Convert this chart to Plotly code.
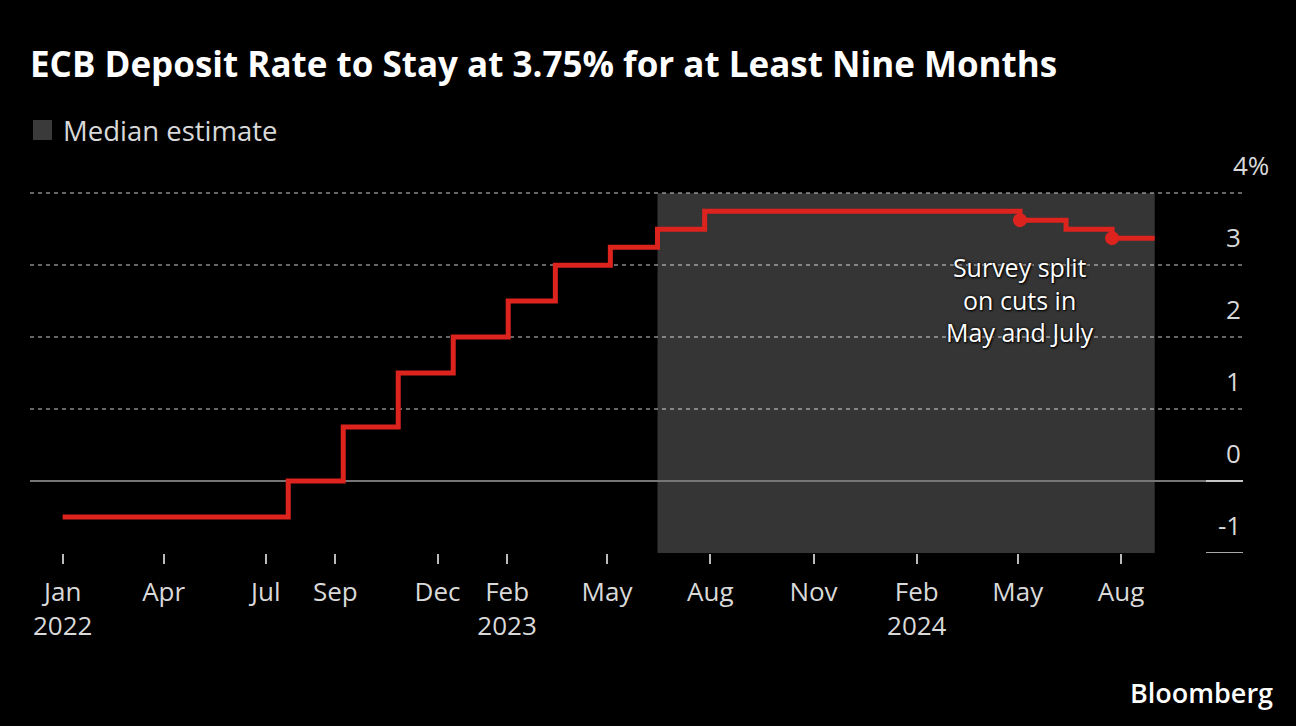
import plotly.graph_objects as go

# ---- data ----
dates = ["2022-01-01", "2022-07-21", "2022-09-08", "2022-10-27", "2022-12-15",
         "2023-02-02", "2023-03-16", "2023-05-04", "2023-06-15", "2023-07-27",
         "2024-05-03", "2024-06-13", "2024-07-24", "2024-08-31"]
rates = [-0.5, 0.0, 0.75, 1.5, 2.0, 2.5, 3.0, 3.25, 3.5, 3.75,
         3.625, 3.5, 3.375, 3.375]
dot_dates = ["2024-05-03", "2024-07-24"]
dot_rates = [3.625, 3.375]
shade_start = "2023-06-15"
shade_end = "2024-08-31"
tick_dates = ["2022-01-01", "2022-04-01", "2022-07-01", "2022-09-01", "2022-12-01",
              "2023-02-01", "2023-05-01", "2023-08-01", "2023-11-01", "2024-02-01",
              "2024-05-01", "2024-08-01"]
tick_text = ["Jan<br>2022", "Apr", "Jul", "Sep", "Dec", "Feb<br>2023", "May",
             "Aug", "Nov", "Feb<br>2024", "May", "Aug"]
y_grid = [1, 2, 3, 4]
y_label_vals = [-1, 0, 1, 2, 3, 4]
y_label_text = ["-1", "0", "1", "2", "3", "4%"]
note_text = "Survey split<br>on cuts in<br>May and July"

FONT = "Open Sans"
RED = "#dc231e"
LABEL = "#d9d9d9"
W, H = 1296, 726
L, R, T, B = 30, 1243, 191, 553
Y_RANGE = [-1, 4.03]


def px_x(p):
    return (p - L) / (R - L)


def px_y(p):
    return (B - p) / (B - T)


fig = go.Figure()
fig.add_trace(go.Scatter(
    x=dates, y=rates, mode="lines", line=dict(color=RED, width=5, shape="hv"),
    hoverinfo="skip", showlegend=False))
fig.add_trace(go.Scatter(
    x=dot_dates, y=dot_rates, mode="markers",
    marker=dict(color=RED, size=14), hoverinfo="skip", showlegend=False))

shapes = [
    dict(type="rect", xref="x", yref="y", x0=shade_start, x1=shade_end, y0=-1, y1=4,
         fillcolor="#353535", line=dict(width=0), layer="below"),
    dict(type="line", xref="paper", yref="y", x0=px_x(1206), x1=1, y0=0, y1=0,
         line=dict(color="#e0e0e0", width=1.5), layer="above"),
    dict(type="line", xref="paper", yref="y", x0=px_x(1206), x1=1, y0=-1, y1=-1,
         line=dict(color="#e0e0e0", width=1.5), layer="above"),
    # legend swatch
    dict(type="rect", xref="paper", yref="paper", x0=px_x(33), x1=px_x(52),
         y0=px_y(140), y1=px_y(120), fillcolor="#3a3a3a", line=dict(width=0)),
]

annotations = [
    dict(text="<b>ECB Deposit Rate to Stay at 3.75% for at Least Nine Months</b>",
         xref="paper", yref="paper", x=px_x(28), y=px_y(64), xanchor="left",
         yanchor="middle", showarrow=False,
         font=dict(family=FONT, size=35, color="#ffffff")),
    dict(text="Median estimate", xref="paper", yref="paper", x=px_x(61), y=px_y(130),
         xanchor="left", yanchor="middle", showarrow=False,
         font=dict(family=FONT, size=27.5, color=LABEL)),
    dict(text="Bloomberg", xref="paper", yref="paper", x=px_x(1275), y=px_y(692),
         xanchor="right", yanchor="middle", showarrow=False,
         font=dict(family=FONT, size=27, color="#ffffff", weight=600)),
    dict(text=note_text, xref="x", yref="y", x=dot_dates[0], y=2.527,
         xanchor="center", yanchor="middle", showarrow=False, align="center",
         font=dict(family=FONT, size=25, color="#ffffff",
                   shadow="0px 0px 3px #000, 1px 1px 2px #000")),
]
for v, t in zip(y_label_vals, y_label_text):
    if t.endswith("%"):
        annotations.append(dict(text=t, xref="paper", yref="y", x=px_x(1231), y=v,
                                xanchor="left", yanchor="middle", yshift=28,
                                showarrow=False,
                                font=dict(family=FONT, size=26, color=LABEL)))
    else:
        annotations.append(dict(text=t, xref="paper", yref="y", x=1, y=v,
                                xanchor="right", yanchor="middle", yshift=28,
                                showarrow=False,
                                font=dict(family=FONT, size=26, color=LABEL)))

fig.update_layout(
    width=W, height=H,
    margin=dict(l=L, r=W - R, t=T, b=H - B, pad=0),
    paper_bgcolor="#000000", plot_bgcolor="#000000",
    shapes=shapes, annotations=annotations, showlegend=False,
    xaxis=dict(type="date", range=["2021-12-02 22:00", "2024-11-17 16:00"],
               tickmode="array", tickvals=tick_dates, ticktext=tick_text,
               ticks="outside", ticklen=10, tickwidth=1.5, tickcolor="#bbbbbb",
               showgrid=False, zeroline=False, showline=False,
               ticklabelstandoff=6,
               tickfont=dict(family=FONT, size=26, color=LABEL)),
    yaxis=dict(range=Y_RANGE, tickmode="array", tickvals=y_grid,
               showticklabels=False, showgrid=True,
               gridcolor="rgba(255,255,255,0.4)",
               griddash="4px,4px", gridwidth=2,
               zeroline=True, zerolinecolor="#767676", zerolinewidth=1.5,
               showline=False),
)

fig.write_html("out.html", config={"displayModeBar": False},
               post_script="document.body.style.margin='0';")
